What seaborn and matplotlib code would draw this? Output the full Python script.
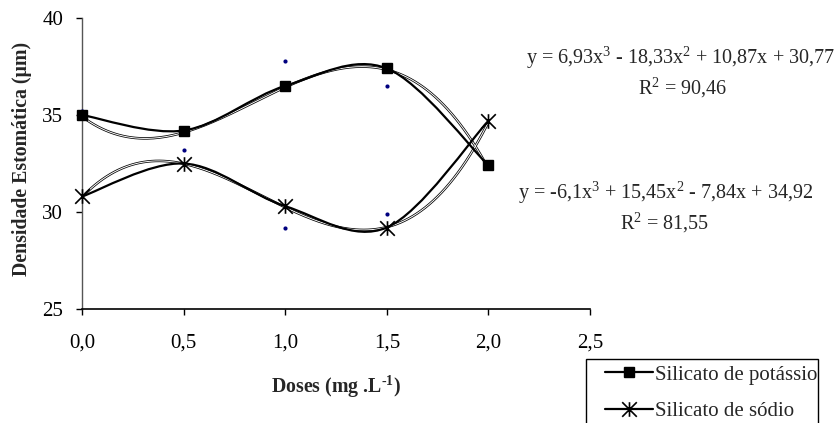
import numpy as np
import pandas as pd
import seaborn as sns
import matplotlib
matplotlib.use("Agg")
import matplotlib.pyplot as plt
from matplotlib.path import Path
from matplotlib.patches import PathPatch, Rectangle
from matplotlib.lines import Line2D

# Doses and mean stomatal density for each silicate source
doses = [0.0, 0.5, 1.0, 1.5, 2.0]
potassio = [35.0, 34.2, 36.5, 37.4, 32.4]
sodio = [30.8, 32.5, 30.3, 29.2, 34.7]

# Individual observations shown as small dots
obs_x = [0.0, 0.5, 1.0, 1.0, 1.5, 1.5]
obs_y = [35.2, 33.2, 37.8, 29.2, 36.5, 29.9]

# Cubic trend coefficients (highest power first), as printed on the chart
coef_potassio = [-6.1, 15.45, -7.84, 34.92]
coef_sodio = [6.93, -18.33, 10.87, 30.77]

eq_potassio = r"y = -6,1x$^3$ + 15,45x$^2$ - 7,84x + 34,92"
r2_potassio = r"R$^2$ = 81,55"
eq_sodio = r"y = 6,93x$^3$ - 18,33x$^2$ + 10,87x + 30,77"
r2_sodio = r"R$^2$ = 90,46"

x_ticks = [0.0, 0.5, 1.0, 1.5, 2.0, 2.5]
x_ticklabels = ["0,0", "0,5", "1,0", "1,5", "2,0", "2,5"]
y_ticks = [25, 30, 35, 40]

sns.set_style("white")
plt.rcParams["font.family"] = ["Liberation Serif", "DejaVu Serif"]
plt.rcParams["mathtext.fontset"] = "custom"
plt.rcParams["mathtext.rm"] = "Liberation Serif"
plt.rcParams["mathtext.it"] = "Liberation Serif:italic"
plt.rcParams["mathtext.bf"] = "Liberation Serif:bold"

FS = 15
FS_EQ = 14.5
FS_LAB = 14.3

fig = plt.figure(figsize=(8.38, 4.23), dpi=100)
W, H = 838, 423
ax = fig.add_axes([82 / W, 1 - 309 / H, (590 - 82) / W, (309 - 18) / H])


def smooth_path(xs, ys):
    """Catmull-Rom style Bezier through the points (spreadsheet 'smoothed line')."""
    pts = np.column_stack([xs, ys]).astype(float)
    n = len(pts)
    verts = [pts[0]]
    codes = [Path.MOVETO]
    for i in range(n - 1):
        p0 = pts[i - 1] if i > 0 else pts[i]
        p1 = pts[i]
        p2 = pts[i + 1]
        p3 = pts[i + 2] if i + 2 < n else pts[i + 1]
        c1 = p1 + (p2 - p0) / 6.0
        c2 = p2 - (p3 - p1) / 6.0
        verts += [c1, c2, p2]
        codes += [Path.CURVE4] * 3
    return Path(verts, codes)


# Polynomial trend lines, drawn as a hollow double hairline
xt = np.linspace(0, 2, 200)
trend = pd.DataFrame({
    "x": np.concatenate([xt, xt]),
    "y": np.concatenate([np.polyval(coef_potassio, xt), np.polyval(coef_sodio, xt)]),
    "serie": ["K"] * len(xt) + ["Na"] * len(xt),
})
sns.lineplot(data=trend, x="x", y="y", units="serie", estimator=None,
             color="black", lw=1.8, ax=ax, zorder=2, legend=False)
sns.lineplot(data=trend, x="x", y="y", units="serie", estimator=None,
             color="white", lw=0.7, ax=ax, zorder=2.1, legend=False)

# Smoothed lines linking the means
for ys in (potassio, sodio):
    ax.add_patch(PathPatch(smooth_path(doses, ys), facecolor="none",
                           edgecolor="black", lw=1.6, zorder=3))

# Observation dots
sns.scatterplot(x=obs_x, y=obs_y, color="#00007f", s=9, linewidth=0,
                ax=ax, zorder=4, legend=False, clip_on=False)

# Star marker: X plus vertical bar
star = Path([(-0.5, -0.5), (0.5, 0.5), (-0.5, 0.5), (0.5, -0.5), (0, -0.5), (0, 0.5)],
            [Path.MOVETO, Path.LINETO, Path.MOVETO, Path.LINETO, Path.MOVETO, Path.LINETO])

ax.plot(doses, potassio, ls="none", marker="s", ms=7.2, color="black",
        zorder=5, clip_on=False)
ax.plot(doses, sodio, ls="none", marker=star, ms=10.5, mew=1.2,
        color="black", mfc="none", zorder=5, clip_on=False)

ax.set_xlim(0, 2.5)
ax.set_ylim(25, 40)
ax.set_xticks(x_ticks)
ax.set_xticklabels(x_ticklabels)
ax.set_yticks(y_ticks)
ax.tick_params(axis="both", which="major", direction="out", length=4.5, width=1,
               color="black", labelsize=FS, labelcolor="black")
ax.tick_params(axis="x", pad=13)
ax.tick_params(axis="y", pad=9)
ax.tick_params(bottom=True, left=True)

for side in ("top", "right"):
    ax.spines[side].set_visible(False)
ax.spines["bottom"].set_color("black")
ax.spines["bottom"].set_linewidth(1.2)
ax.spines["left"].set_color("#555555")
ax.spines["left"].set_linewidth(1.0)

ax.set_xlabel(r"Doses (mg .L$^{\text{-}\mathbf{1}}$)", fontsize=FS_LAB, fontweight="bold")
ax.set_ylabel("Densidade Estomática (µm)", fontsize=FS_LAB, fontweight="bold")
ax.xaxis.set_label_coords(0.5, -(374 - 309) / (309 - 18))
ax.yaxis.set_label_coords(-(82 - 32) / (590 - 82), 1 - (159 - 18) / (309 - 18))

# Trend equations
fig.text(681 / W, 1 - 58 / H, eq_sodio, ha="center", va="center", fontsize=FS_EQ)
fig.text(683 / W, 1 - 88 / H, r2_sodio, ha="center", va="center", fontsize=FS_EQ)
fig.text(666 / W, 1 - 193 / H, eq_potassio, ha="center", va="center", fontsize=FS_EQ)
fig.text(665 / W, 1 - 223 / H, r2_potassio, ha="center", va="center", fontsize=FS_EQ)

# Legend with a frame running off the bottom edge
fig.patches.append(Rectangle((586 / W, -0.05), (818 - 586) / W, (1 - 359 / H) + 0.05,
                             transform=fig.transFigure, facecolor="white",
                             edgecolor="black", lw=1.0, zorder=0))
handles = [
    Line2D([], [], color="black", lw=1.6, marker="s", ms=7.2),
    Line2D([], [], color="black", lw=1.6, marker=star, ms=10.5, mew=1.2),
]
leg = fig.legend(handles, ["Silicato de potássio", "Silicato de sódio"],
                 loc="upper left", bbox_to_anchor=(605 / W, 1 - 365 / H),
                 frameon=False, fontsize=FS, handlelength=2.3, handletextpad=0.12,
                 borderpad=0, borderaxespad=0, labelspacing=0.8)

fig.savefig("out.png", dpi=100)
